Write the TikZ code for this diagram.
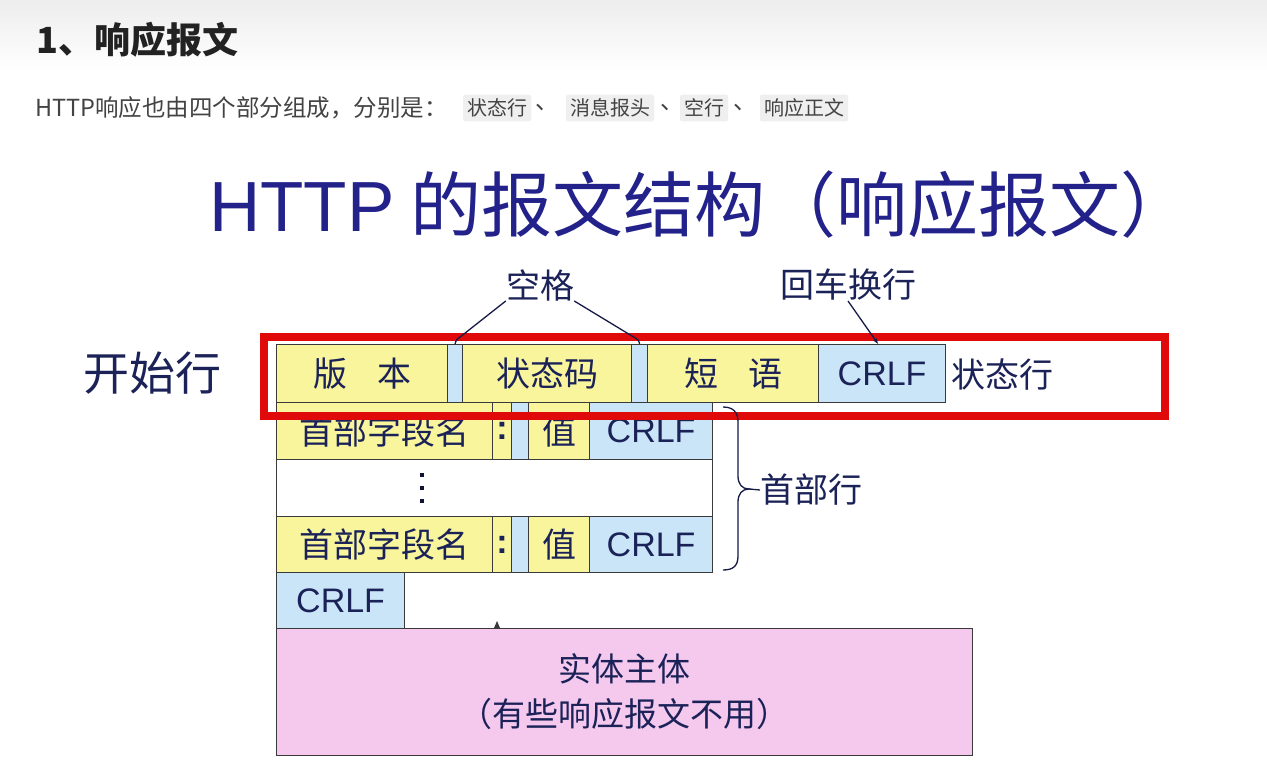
\documentclass[tikz,border=0pt]{standalone}
\usepackage{fontspec}
\setmainfont{Noto Sans CJK SC}
\newfontfamily\lat{Liberation Sans}
\usetikzlibrary{arrows.meta,calc}
\definecolor{ylw}{HTML}{F8F59C}
\definecolor{blu}{HTML}{C9E5F7}
\definecolor{pnk}{HTML}{F5C8EE}
\definecolor{navy}{HTML}{1B2257}
\definecolor{ttl}{HTML}{22228A}
\definecolor{frm}{HTML}{E00A0A}
\definecolor{edgec}{HTML}{3A3A3A}
\definecolor{chipbg}{HTML}{EFEFEF}
\definecolor{headc}{HTML}{222222}
\tikzset{
  cellbase/.style={draw=edgec, line width=1.2pt, anchor=north west, inner sep=0pt,
    text=navy, font=\fontsize{34}{40}\selectfont},
  ycell/.style={cellbase, fill=ylw},
  bcell/.style={cellbase, fill=blu},
  wcell/.style={cellbase, fill=white},
  pcell/.style={cellbase, fill=pnk, align=center, font=\fontsize{33}{45}\selectfont},
  lab/.style={text=navy, inner sep=0pt, font=\fontsize{34}{40}\selectfont},
  conn/.style={draw=navy!80!black, line width=1.3pt},
  chip/.style={fill=chipbg, rounded corners=2pt, inner xsep=4pt, inner ysep=4pt,
    text=headc!85, font=\fontsize{20}{24}\selectfont},
  sub/.style={text=headc!85, inner sep=0pt, font=\fontsize{23.5}{26}\selectfont},
}
\begin{document}
\begin{tikzpicture}[x=1pt,y=-1pt]
\useasboundingbox (0,0) rectangle (1267,765);
\fill[white] (0,0) rectangle (1267,765);
\shade[top color=black!7, bottom color=white] (0,0) rectangle (1267,70);

% heading and subtitle
\node[anchor=west, inner sep=0pt, text=headc, font=\fontsize{36}{40}\selectfont\bfseries] (head) at (36,40) {1、响应报文};
\node[sub, anchor=west] (subt) at (35,108) {HTTP响应也由四个部分组成，分别是：};
\node[chip] (c1) at (497,108) {状态行};
\node[sub] (s1) at (547,108) {、};
\node[chip] (c2) at (610,108) {消息报头};
\node[sub] (s2) at (672,108) {、};
\node[chip] (c3) at (704,108) {空行};
\node[sub] (s3) at (745,108) {、};
\node[chip] (c4) at (804,108) {响应正文};

% title
\node[anchor=west, inner sep=0pt, text=ttl, font=\fontsize{71}{75}\selectfont] (title) at (209,205) {{\lat HTTP} 的报文结构（响应报文）};

% start line row
\node[ycell, minimum width=171, minimum height=58] (ver) at (276,344) {版\hspace{30pt}本};
\node[bcell, minimum width=15, minimum height=58] (sp1) at (447,344) {};
\node[ycell, minimum width=169, minimum height=58] (code) at (462,344) {状态码};
\node[bcell, minimum width=16, minimum height=58] (sp2) at (631,344) {};
\node[ycell, minimum width=171, minimum height=58] (phr) at (647,344) {短\hspace{30pt}语};
\node[bcell, minimum width=127, minimum height=58] (crlfa) at (818,344) {\lat CRLF};

% header row 1
\node[ycell, minimum width=216, minimum height=57] (namea) at (276,402) {首部字段名};
\node[ycell, minimum width=19, minimum height=57] (cola) at (492,402) {\lat\bfseries :};
\node[bcell, minimum width=17, minimum height=57] (sp3) at (511,402) {};
\node[ycell, minimum width=61, minimum height=57] (vala) at (528,402) {值};
\node[bcell, minimum width=123, minimum height=57] (crlfb) at (589,402) {\lat CRLF};

% dots row
\node[wcell, minimum width=436, minimum height=57] (dotsrow) at (276,459) {};
\foreach \yy in {475,488,501} \fill[navy!60!black] (419.5,\yy-2) rectangle (423.5,\yy+2);

% header row 2
\node[ycell, minimum width=216, minimum height=56] (nameb) at (276,516) {首部字段名};
\node[ycell, minimum width=19, minimum height=56] (colb) at (492,516) {\lat\bfseries :};
\node[bcell, minimum width=17, minimum height=56] (sp4) at (511,516) {};
\node[ycell, minimum width=61, minimum height=56] (valb) at (528,516) {值};
\node[bcell, minimum width=123, minimum height=56] (crlfc) at (589,516) {\lat CRLF};

% empty line
\node[bcell, minimum width=128, minimum height=56] (crlfd) at (276,572) {\lat CRLF};

% body
\node[pcell, minimum width=696, minimum height=127] (body) at (276,628) {实体主体\\（有些响应报文不用）};
\fill[edgec] (494,628) -- (497,621) -- (500,628) -- cycle;

% red frame
\node[draw=frm, line width=7.5pt, anchor=north west, minimum width=901, minimum height=79, inner sep=0pt] (frame) at (260,333) {};

% labels
\node[lab, font=\fontsize{46}{50}\selectfont] (start) at (152,373) {开始行};
\node[lab, anchor=west] (ztx) at (951,375) {状态行};
\node[lab] (kongge) at (540,285) {空格};
\node[lab] (hchh) at (848,285) {回车换行};
\node[lab, anchor=west] (shoubu) at (760,490) {首部行};

% connectors
\draw[conn] (kongge.south west) -- ($(sp1.north)+(5,-7)$) .. controls ($(sp1.north)+(1,-4)$) .. (sp1.north);
\draw[conn] (kongge.south east) -- ($(sp2.north)+(-6,-7)$) .. controls ($(sp2.north)+(-1,-4)$) .. (sp2.north);
\draw[conn, -{Stealth[length=6pt,width=4pt]}] (hchh.south) -- ([xshift=-4pt]crlfa.north);

% brace
\coordinate (btip) at (749,489);
\draw[conn] (723,407) .. controls (733,407) and (738,412) .. (738,422) -- (738,476)
  .. controls (738,484) and (742,489) .. (btip)
  .. controls (742,489) and (738,494) .. (738,502) -- (738,556)
  .. controls (738,566) and (733,570) .. (723,570);
\draw[conn] (btip) -- (shoubu.west);
\end{tikzpicture}
\end{document}
